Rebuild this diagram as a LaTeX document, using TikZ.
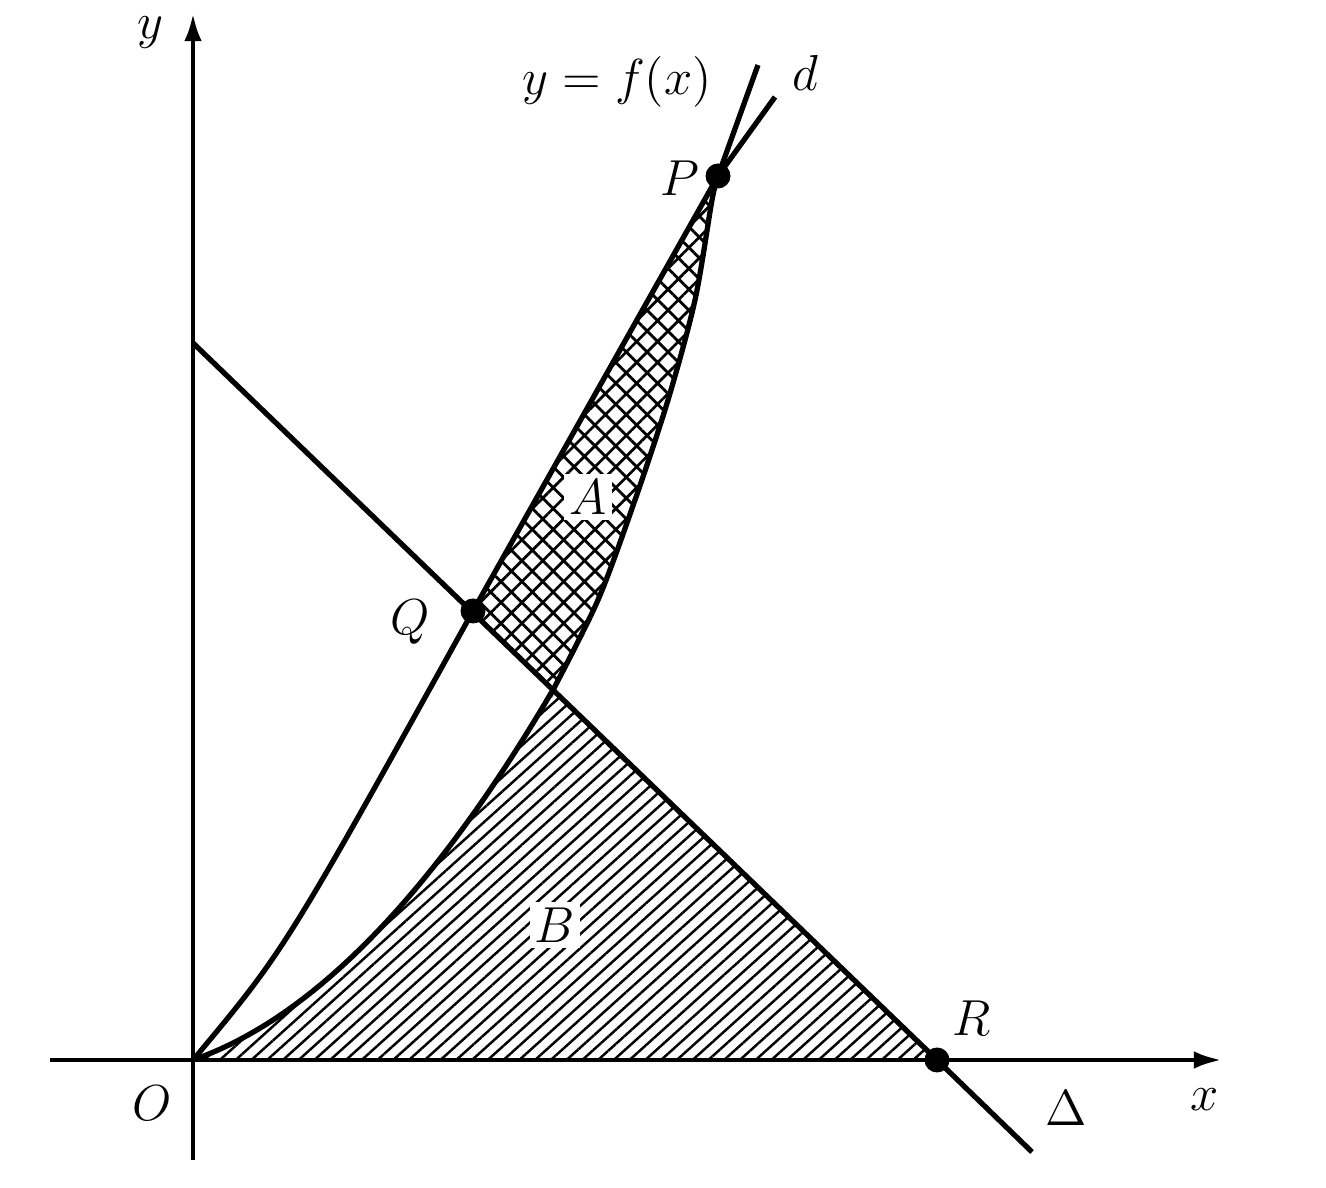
\documentclass[tikz,border=0pt]{standalone}
\usepackage{amsmath}
\usepackage{amssymb}
\usetikzlibrary{arrows.meta,patterns.meta}

\tikzset{
	axisline/.style={line width=1.4pt,->},
	curveline/.style={line width=1.5pt},
	pt/.style={circle,fill=black,inner sep=0pt,minimum size=0.25cm},
	crossA/.style={pattern={Hatch[angle=45,distance=4.2pt,line width=0.8pt]}},
	linesB/.style={pattern={Lines[angle=42,distance=3pt,line width=0.7pt]}},
	lab/.style={fill=white,inner sep=1.5pt},
}

\begin{document}
\begin{tikzpicture}[>={Latex[length=8pt,width=5pt]}, font=\Large]
	\useasboundingbox (-1.93,-1.27) rectangle (11.33,10.60);

	% === POINTS === (((
	\coordinate (O) at (0,0);
	\coordinate (Q) at (2.80,4.49);
	\coordinate (S) at (3.60,3.70);
	\coordinate (P) at (5.25,8.84);
	\coordinate (R) at (7.44,0);

	\coordinate (xmin) at (-1.43,0);
	\coordinate (xmax) at (10.29,0);
	\coordinate (ymin) at (0,-1.00);
	\coordinate (ymax) at (0,10.47);

	\coordinate (D0) at (0,7.17);
	\coordinate (D1) at (8.39,-0.92);
	\coordinate (fend) at (5.65,9.95);
	\coordinate (dend) at (5.82,9.63);
	% )))

	% === REGIONS === (((
	\fill[linesB] plot[domain=0:3.6,samples=40] (\x,{0.1887*\x*\x+0.349*\x}) -- (R) -- cycle;
	\fill[crossA] (Q) -- (P) -- plot[smooth] coordinates {(P) (5.19,8.60) (5.02,7.60) (4.75,6.60) (4.42,5.60) (4.05,4.60) (S)} -- cycle;

	\node[lab] (A) at (3.95,5.63) {\(A\)};
	\node[lab] (B) at (3.62,1.35) {\(B\)};
	% )))

	% === LINES === (((
	\draw[axisline] (xmin) -- (xmax);
	\draw[axisline] (ymin) -- (ymax);

	\draw[curveline] plot[domain=0:3.6,samples=40] (\x,{0.1887*\x*\x+0.349*\x})
		-- plot[smooth] coordinates {(S) (4.05,4.60) (4.42,5.60) (4.75,6.60) (5.02,7.60) (5.19,8.60) (P)};
	\draw[curveline] (P) -- (fend);

	\draw[curveline] (O) .. controls (0.92,1.10) .. (Q) -- (P) -- (dend);

	\draw[curveline] (D0) -- (R) -- (D1);
	% )))

	% === LABELS === (((
	\node[pt] at (P) {};
	\node[pt] at (Q) {};
	\node[pt] at (R) {};

	\node (Plab) at (4.87,8.82) {\(P\)};
	\node (Qlab) at (2.17,4.38) {\(Q\)};
	\node (Rlab) at (7.79,0.42) {\(R\)};
	\node (Olab) at (-0.41,-0.43) {\(O\)};
	\node (xlab) at (10.12,-0.40) {\(x\)};
	\node (ylab) at (-0.43,10.27) {\(y\)};
	\node (Dlab) at (8.73,-0.48) {\(\Delta\)};
	\node (flab) at (4.24,9.78) {\(y=f(x)\)};
	\node (dlab) at (6.12,9.87) {\(d\)};
	% )))

\end{tikzpicture}
\end{document}
